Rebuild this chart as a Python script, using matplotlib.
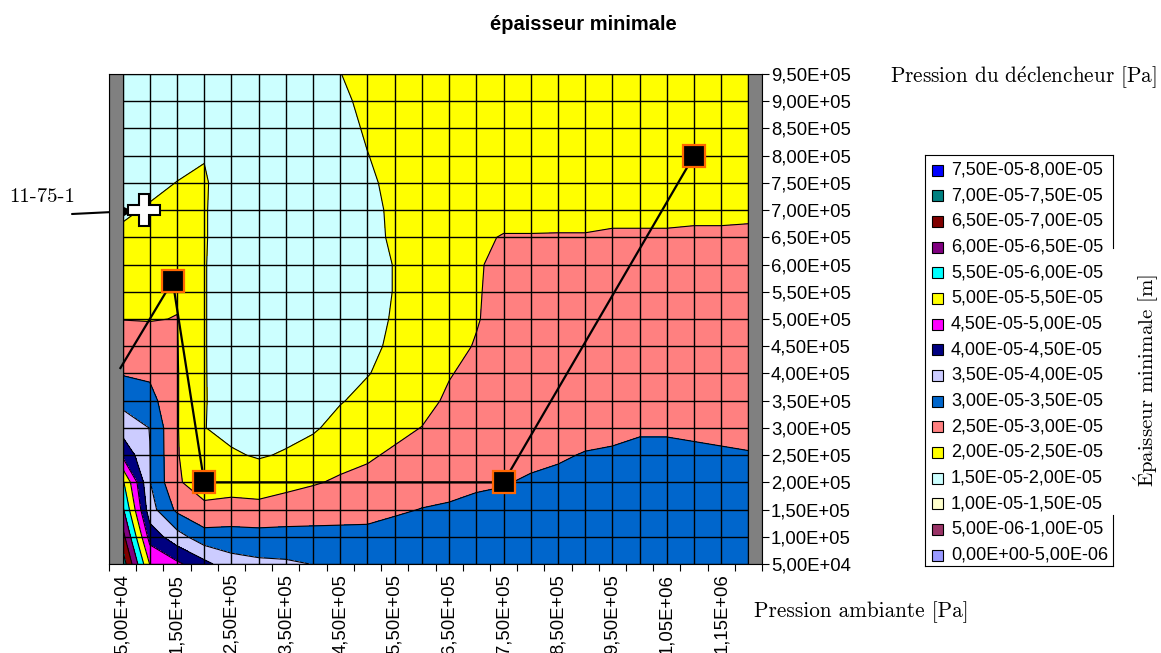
import numpy as np
import matplotlib
matplotlib.use("Agg")
import matplotlib.pyplot as plt
from matplotlib.patches import Rectangle
from matplotlib.lines import Line2D

# Pression ambiante [Pa] (colonnes) et pression du déclencheur [Pa] (lignes)
pression_ambiante = [5.0e4, 1.0e5, 1.5e5, 2.0e5, 2.5e5, 3.0e5, 3.5e5, 4.0e5,
                     4.5e5, 5.0e5, 5.5e5, 6.0e5, 6.5e5, 7.0e5, 7.5e5, 8.0e5,
                     8.5e5, 9.0e5, 9.5e5, 1.0e6, 1.05e6, 1.1e6, 1.15e6, 1.2e6]
pression_declencheur = [5.0e4, 1.0e5, 1.5e5, 2.0e5, 2.5e5, 3.0e5, 3.5e5,
                        4.0e5, 4.5e5, 5.0e5, 5.5e5, 6.0e5, 6.5e5, 7.0e5,
                        7.5e5, 8.0e5, 8.5e5, 9.0e5, 9.5e5]

# épaisseur minimale en 1e-5 m, une ligne par pression du déclencheur
epaisseur = [
    [7.3, 4.98, 4.6, 4.15, 3.69, 3.6, 3.57, 3.49, 3.4, 3.37, 3.34, 3.35, 3.25, 3.22, 3.16, 3.19, 3.22, 3.24, 3.27, 3.30, 3.30, 3.28, 3.26, 3.25],
    [6.7, 4.3, 3.7, 3.2, 3.21, 3.17, 3.16, 3.14, 3.12, 3.11, 3.15, 3.18, 3.14, 3.13, 3.10, 3.14, 3.16, 3.18, 3.21, 3.24, 3.24, 3.22, 3.20, 3.19],
    [6.1, 3.7, 2.9, 2.6, 2.65, 2.65, 2.73, 2.79, 2.84, 2.87, 2.95, 3.01, 3.03, 3.05, 3.05, 3.08, 3.10, 3.12, 3.14, 3.17, 3.17, 3.16, 3.14, 3.13],
    [5.6, 3.52, 2.55, 2.3, 2.32, 2.25, 2.36, 2.46, 2.56, 2.63, 2.76, 2.84, 2.92, 2.97, 2.99, 3.02, 3.04, 3.06, 3.08, 3.11, 3.11, 3.09, 3.08, 3.07],
    [4.4, 3.51, 2.53, 2.15, 2.05, 1.96, 2.04, 2.2, 2.35, 2.44, 2.57, 2.67, 2.81, 2.88, 2.94, 2.96, 2.98, 3.01, 3.02, 3.04, 3.04, 3.03, 3.02, 3.01],
    [3.8, 3.49, 2.53, 2.01, 1.88, 1.8, 1.87, 1.94, 2.16, 2.29, 2.38, 2.51, 2.70, 2.80, 2.88, 2.91, 2.92, 2.94, 2.96, 2.98, 2.98, 2.97, 2.96, 2.95],
    [3.35, 3.19, 2.53, 2.03, 1.75, 1.72, 1.74, 1.8, 1.97, 2.13, 2.25, 2.34, 2.58, 2.72, 2.83, 2.85, 2.86, 2.88, 2.89, 2.91, 2.91, 2.90, 2.90, 2.89],
    [2.97, 2.91, 2.53, 2.03, 1.72, 1.68, 1.68, 1.72, 1.8, 1.98, 2.15, 2.25, 2.47, 2.64, 2.77, 2.79, 2.81, 2.82, 2.83, 2.85, 2.85, 2.84, 2.84, 2.83],
    [2.75, 2.69, 2.52, 2.03, 1.7, 1.66, 1.65, 1.68, 1.74, 1.9, 2.08, 2.2, 2.36, 2.53, 2.72, 2.73, 2.75, 2.76, 2.77, 2.78, 2.78, 2.78, 2.77, 2.77],
    [2.49, 2.48, 2.51, 2.03, 1.7, 1.65, 1.64, 1.66, 1.71, 1.86, 2.04, 2.18, 2.32, 2.47, 2.67, 2.68, 2.69, 2.70, 2.71, 2.72, 2.72, 2.72, 2.71, 2.71],
    [2.35, 2.35, 2.45, 2.03, 1.7, 1.65, 1.64, 1.66, 1.7, 1.8, 2.02, 2.15, 2.3, 2.47, 2.61, 2.62, 2.63, 2.64, 2.65, 2.65, 2.65, 2.66, 2.65, 2.65],
    [2.2, 2.25, 2.35, 2.03, 1.7, 1.66, 1.65, 1.67, 1.71, 1.8, 2.02, 2.15, 2.3, 2.48, 2.55, 2.56, 2.57, 2.58, 2.58, 2.59, 2.59, 2.59, 2.59, 2.59],
    [2.1, 2.15, 2.25, 2.04, 1.72, 1.68, 1.67, 1.69, 1.73, 1.9, 2.05, 2.17, 2.3, 2.47, 2.51, 2.51, 2.51, 2.51, 2.52, 2.52, 2.52, 2.53, 2.53, 2.53],
    [1.92, 2.05, 2.15, 2.04, 1.72, 1.7, 1.69, 1.71, 1.76, 1.88, 2.08, 2.2, 2.3, 2.42, 2.44, 2.44, 2.45, 2.45, 2.46, 2.46, 2.46, 2.46, 2.46, 2.47],
    [1.85, 1.88, 2.01, 2.05, 1.74, 1.72, 1.71, 1.73, 1.79, 1.92, 2.12, 2.22, 2.3, 2.38, 2.39, 2.39, 2.39, 2.39, 2.40, 2.39, 2.40, 2.40, 2.40, 2.41],
    [1.8, 1.8, 1.85, 1.98, 1.75, 1.73, 1.73, 1.76, 1.82, 1.99, 2.15, 2.25, 2.32, 2.35, 2.33, 2.33, 2.33, 2.33, 2.33, 2.33, 2.33, 2.34, 2.34, 2.34],
    [1.75, 1.75, 1.8, 1.8, 1.75, 1.74, 1.75, 1.78, 1.85, 2.05, 2.2, 2.28, 2.33, 2.3, 2.28, 2.27, 2.27, 2.27, 2.27, 2.26, 2.27, 2.28, 2.28, 2.28],
    [1.72, 1.72, 1.76, 1.76, 1.74, 1.74, 1.76, 1.8, 1.91, 2.11, 2.25, 2.3, 2.35, 2.27, 2.22, 2.21, 2.21, 2.21, 2.21, 2.20, 2.20, 2.21, 2.22, 2.22],
    [1.7, 1.7, 1.72, 1.74, 1.73, 1.74, 1.77, 1.82, 1.99, 2.2, 2.3, 2.33, 2.37, 2.24, 2.17, 2.16, 2.15, 2.15, 2.15, 2.13, 2.14, 2.15, 2.16, 2.16],
]

# bornes des plages [m] et couleurs associées
niveaux = [0.0, 0.5e-5, 1.0e-5, 1.5e-5, 2.0e-5, 2.5e-5, 3.0e-5, 3.5e-5, 4.0e-5,
           4.5e-5, 5.0e-5, 5.5e-5, 6.0e-5, 6.5e-5, 7.0e-5, 7.5e-5, 8.0e-5]
couleurs = ["#9999FF", "#993366", "#FFFFCC", "#CCFFFF", "#FFFF00", "#FF8080",
            "#0066CC", "#CCCCFF", "#000080", "#FF00FF", "#FFFF00", "#00FFFF",
            "#800080", "#800000", "#008080", "#0000FF"]

# trajet de fonctionnement et essai 11-75-1
trajet_x = [4.6e4, 1.42e5, 2.0e5, 7.5e5, 1.1e6]
trajet_y = [4.1e5, 5.7e5, 2.0e5, 2.0e5, 8.0e5]
essai_x = [9.0e4]
essai_y = [7.0e5]

W, H = 1161, 653
SANS = "Liberation Sans"
SERIF = ["cmr10", "DejaVu Serif"]


def fx(px):
    return px / W


def fy(py):
    return 1 - py / H


def fmt(v):
    """Écriture scientifique à virgule, ex. 9,50E+05"""
    return f"{v:.2E}".replace(".", ",")


plt.rcParams["axes.unicode_minus"] = False
plt.rcParams["mathtext.fontset"] = "cm"
fig = plt.figure(figsize=(W / 100, H / 100), dpi=100)
ax = fig.add_axes([fx(109), fy(564), (762 - 109) / W, (564 - 74) / H])

X, Y = np.meshgrid(pression_ambiante, pression_declencheur)
Z = np.array(epaisseur) * 1e-5

ax.contourf(X, Y, Z, levels=niveaux, colors=couleurs, zorder=1)
ax.contour(X, Y, Z, levels=niveaux[1:-1], colors="black", linewidths=0.8, zorder=2)

# quadrillage sur chaque valeur
x0, x1 = pression_ambiante[0], pression_ambiante[-1]
y0, y1 = pression_declencheur[0], pression_declencheur[-1]
ax.vlines(pression_ambiante, y0, y1, colors="black", linewidth=1.0, zorder=3)
ax.hlines(pression_declencheur, x0, x1, colors="black", linewidth=1.0, zorder=3)

# parois grises de part et d'autre
demi = (pression_ambiante[1] - pression_ambiante[0]) / 2
for xa in (x0 - demi, x1):
    ax.add_patch(Rectangle((xa, y0), demi, y1 - y0, facecolor="#808080",
                           edgecolor="black", linewidth=0.8, zorder=4))

ax.set_xlim(x0 - demi, x1 + demi)
ax.set_ylim(y0, y1)
for s in ax.spines.values():
    s.set_linewidth(0.8)
    s.set_zorder(5)

# axe vertical à droite
ax.yaxis.tick_right()
ax.set_yticks(pression_declencheur)
ax.set_yticklabels([fmt(v) for v in pression_declencheur], fontsize=13.3, family=SANS)
ax.tick_params(axis="y", direction="out", length=5, width=0.8, pad=1.5)

# axe horizontal : étiquettes une valeur sur deux, tirets entre les valeurs
ax.set_xticks(pression_ambiante[::2][:12])
ax.set_xticklabels([fmt(v) for v in pression_ambiante[::2][:12]], rotation=90,
                   fontsize=13.3, family=SANS)
ax.set_xticks([v - demi for v in pression_ambiante] + [x1 + demi], minor=True)
ax.tick_params(axis="x", which="major", length=0, pad=7)
ax.tick_params(axis="x", which="minor", direction="out", length=5, width=0.8)

# trajet et points
ax.plot(trajet_x, trajet_y, color="black", linewidth=1.6, zorder=6, clip_on=False)
ax.plot(trajet_x[1:], trajet_y[1:], linestyle="none", marker="s", markersize=16,
        markerfacecolor="black", markeredgecolor="#FF6600", markeredgewidth=1.6,
        zorder=7, clip_on=False)
ax.plot(essai_x, essai_y, linestyle="none", marker="P", markersize=23,
        markerfacecolor="white", markeredgecolor="black", markeredgewidth=1.5,
        zorder=7)

ax.annotate("", xy=(fx(133), fy(211)), xytext=(fx(72), fy(214)),
            xycoords="figure fraction", textcoords="figure fraction",
            arrowprops=dict(arrowstyle="-|>", mutation_scale=20, lw=1.5,
                            color="black", shrinkA=0, shrinkB=0))
fig.text(fx(42), fy(197), "11-75-1", family=SERIF, fontsize=15,
         ha="center", va="center")

# titres
fig.text(fx(583), fy(24), "épaisseur minimale", family=SANS, weight="bold",
         fontsize=14.5, ha="center", va="center")
fig.text(fx(1023), fy(78), r"Pression du d$\acute{\mathrm{e}}$clencheur [Pa]",
         family=SERIF, fontsize=15.3, ha="center", va="center")
fig.text(fx(861), fy(612), "Pression ambiante [Pa]", family=SERIF,
         fontsize=15.3, ha="center", va="center")
fig.text(fx(1146), fy(381), r"$\acute{\mathrm{E}}$paisseur minimale [m]",
         family=SERIF, fontsize=15, rotation=90, ha="center", va="center")

# légende des plages, de la plus épaisse à la plus fine
pas = 25.67
for k in range(len(couleurs)):
    b = len(couleurs) - 1 - k
    yc = 170 + pas * k
    fig.add_artist(Rectangle((fx(932), fy(yc + 5.5)), 11 / W, 11 / H,
                             transform=fig.transFigure, facecolor=couleurs[b],
                             edgecolor="black", linewidth=0.8))
    fig.text(fx(951), fy(yc), f"{fmt(niveaux[b])}-{fmt(niveaux[b + 1])}",
             family=SANS, fontsize=13, ha="left", va="center")

cadre = [((925, 1113), (155, 155)), ((925, 1113), (566, 566)),
         ((925, 925), (155, 566)), ((1113, 1113), (155, 248)),
         ((1113, 1113), (515, 566))]
for (xa, xb), (ya, yb) in cadre:
    fig.add_artist(Line2D([fx(xa), fx(xb)], [fy(ya), fy(yb)],
                          transform=fig.transFigure, color="black", linewidth=0.8))

fig.savefig("out.png", dpi=100)
